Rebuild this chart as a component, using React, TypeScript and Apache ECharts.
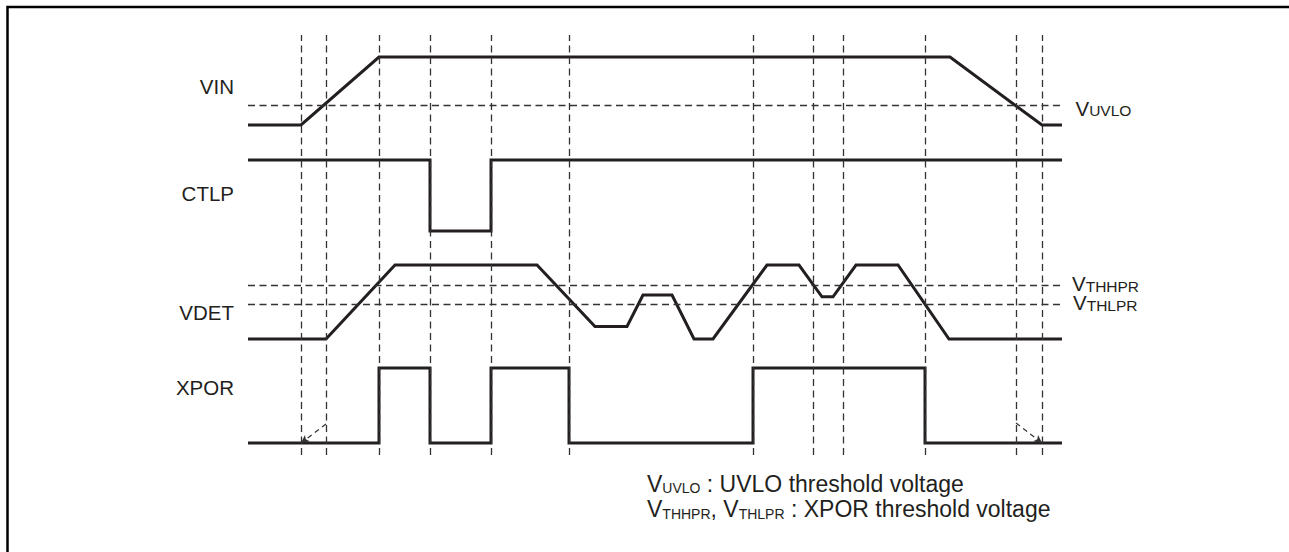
import React, { useEffect, useRef } from "react";
import * as echarts from "echarts";

// ---- data (time units along the diagram, levels 0 = low, 1 = high) ----
const SPAN = 814;
const markerTimes = [53, 78, 131, 182, 243, 321, 505, 565, 595, 677, 768, 794];

const signalNames = ["VIN", "CTLP", "VDET", "XPOR"];

const vinTimes = [0, 53, 131, 702, 794, 814];
const vinLevels = [0, 0, 1, 1, 0, 0];

const ctlpTimes = [0, 182, 182, 243, 243, 814];
const ctlpLevels = [1, 1, 0, 0, 1, 1];

const vdetTimes = [0, 78, 147, 289, 347, 379, 395, 424, 446, 465, 519, 551, 574, 585, 608, 650, 701, 814];
const vdetLevels = [0, 0, 1, 1, 0.17, 0.17, 0.595, 0.595, 0, 0, 1, 1, 0.57, 0.57, 1, 1, 0, 0];

const xporTimes = [0, 131, 131, 182, 182, 243, 243, 321, 321, 505, 505, 677, 677, 814];
const xporLevels = [0, 0, 1, 1, 0, 0, 1, 1, 0, 0, 1, 1, 0, 0];

const vuvloLevel = 0.294;
const vthhprLevel = 0.73;
const vthlprLevel = 0.47;

const arrowStart = [[78, 0.253], [768, 0.267]];
const arrowEnd = [[53, 0], [794, 0]];

const legendLines = [
  { sym: ["UVLO"], text: " : UVLO threshold voltage" },
  { sym: ["THHPR", "THLPR"], text: " : XPOR threshold voltage" },
];

const zip = (t: number[], l: number[]) => t.map((x, i) => [x, l[i]]);

const INK = "#231f20";
const DASH = "#333333";
const FONT = "'Liberation Sans', Arial, Helvetica, sans-serif";

export default function App() {
  const ref = useRef<HTMLDivElement>(null);

  useEffect(() => {
    if (!ref.current) return;
    const chart = echarts.init(ref.current, null, { renderer: "svg" });

    const left = 248;
    const lanes = [
      { top: 57, height: 68 },
      { top: 160, height: 71 },
      { top: 265, height: 74 },
      { top: 368, height: 75 },
    ];
    const grids: any[] = [{ left, width: SPAN, top: 35, height: 420 }].concat(
      lanes.map((l) => ({ left, width: SPAN, top: l.top, height: l.height }))
    );
    const xAxes = grids.map((_, i) => ({
      type: "value", gridIndex: i, min: 0, max: SPAN, show: false,
    }));
    const yAxes = grids.map((_, i) => ({
      type: "value", gridIndex: i, min: 0, max: 1, show: false,
    }));

    const dashStyle = { color: DASH, width: 1.3, type: [7, 4.5] };
    const solid = (idx: number, data: number[][]) => ({
      type: "line",
      xAxisIndex: idx,
      yAxisIndex: idx,
      data,
      symbol: "none",
      showSymbol: false,
      clip: false,
      silent: true,
      z: 3,
      lineStyle: { color: INK, width: 3, join: "miter", cap: "butt" },
    });
    const dashed = (idx: number, markData: any[], extra: any = {}) => ({
      type: "scatter",
      xAxisIndex: idx,
      yAxisIndex: idx,
      data: [],
      silent: true,
      z: 1,
      markLine: {
        silent: true,
        symbol: "none",
        animation: false,
        label: { show: false },
        emphasis: { disabled: true },
        lineStyle: dashStyle,
        data: markData,
        ...extra,
      },
    });

    const series: any[] = [
      dashed(0, markerTimes.map((t) => ({ xAxis: t }))),
      dashed(1, [{ yAxis: vuvloLevel }]),
      dashed(3, [{ yAxis: vthhprLevel }, { yAxis: vthlprLevel }]),
      dashed(
        4,
        arrowStart.map((s, i) => [{ coord: s }, { coord: arrowEnd[i] }]),
        { symbol: ["none", "arrow"], symbolSize: [6, 8], lineStyle: { color: DASH, width: 1.2, type: [5, 4] } }
      ),
      solid(1, zip(vinTimes, vinLevels)),
      solid(2, zip(ctlpTimes, ctlpLevels)),
      solid(3, zip(vdetTimes, vdetLevels)),
      solid(4, zip(xporTimes, xporLevels)),
    ];

    const laneLabelY = [86.5, 193, 312.5, 387];
    // rich label "V" + small caps subscript; y = bottom of the text box
    const labelText = (x: number, y: number, subs: string[], rest: string, big: number, small: number) => {
      let s = "";
      subs.forEach((sub, i) => {
        s += (i > 0 ? "{a|, }" : "") + "{a|V}{b|" + sub + "}";
      });
      if (rest) s += "{a|" + rest + "}";
      const la = Math.round(big * 0.83 * 10) / 10;
      const lb = Math.round((0.693 * small + 0.137 * big) * 10) / 10;
      return {
        type: "text",
        x,
        y,
        silent: true,
        style: {
          text: s,
          fill: INK,
          font: `${big}px ${FONT}`,
          verticalAlign: "bottom",
          rich: {
            a: { fontSize: big, fontFamily: FONT, fill: INK, verticalAlign: "bottom", lineHeight: la },
            b: { fontSize: small, fontFamily: FONT, fill: INK, verticalAlign: "bottom", lineHeight: lb },
          },
        },
      };
    };

    const graphic: any[] = [
      {
        type: "rect",
        shape: { x: 7.5, y: 7, width: 1400, height: 700 },
        style: { fill: "none", stroke: "#000", lineWidth: 2.5 },
        silent: true,
      },
      ...signalNames.map((n, i) => ({
        type: "text",
        x: 234,
        y: laneLabelY[i],
        silent: true,
        style: { text: n, fill: INK, font: `20.5px ${FONT}`, align: "right", verticalAlign: "middle" },
      })),
      labelText(1075.5, 118.8, ["UVLO"], "", 20.5, 15.5),
      labelText(1072, 294, ["THHPR"], "", 20.5, 15.5),
      labelText(1073, 313, ["THLPR"], "", 20.5, 15.5),
      labelText(647, 495, legendLines[0].sym, legendLines[0].text, 23, 14),
      labelText(647, 520.5, legendLines[1].sym, legendLines[1].text, 23, 14),
    ];

    chart.setOption({
      animation: false,
      backgroundColor: "#ffffff",
      grid: grids,
      xAxis: xAxes,
      yAxis: yAxes,
      series,
      graphic,
    });

    return () => chart.dispose();
  }, []);

  return (
    <div
      ref={ref}
      style={{ position: "fixed", left: 0, top: 0, width: 1289, height: 552, background: "#fff" }}
    />
  );
}
